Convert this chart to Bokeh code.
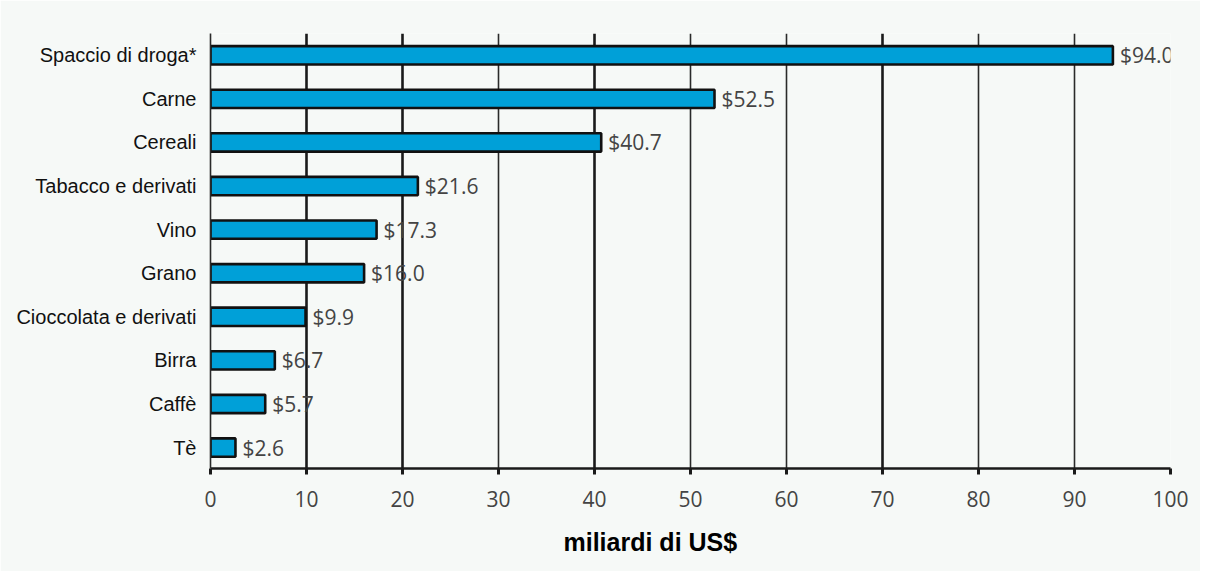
from bokeh.plotting import figure
from bokeh.models import Range1d, FixedTicker, Grid, ColumnDataSource, Title
from bokeh.core.properties import value
from bokeh.embed import file_html
from bokeh.resources import INLINE

categories = ["Spaccio di droga*", "Carne", "Cereali", "Tabacco e derivati", "Vino",
              "Grano", "Cioccolata e derivati", "Birra", "Caffè", "Tè"]
values = [94.0, 52.5, 40.7, 21.6, 17.3, 16.0, 9.9, 6.7, 5.7, 2.6]
value_labels = ["$94.0", "$52.5", "$40.7", "$21.6", "$17.3", "$16.0", "$9.9", "$6.7", "$5.7", "$2.6"]
x_ticks = [0, 10, 20, 30, 40, 50, 60, 70, 80, 90, 100]
axis_title = "miliardi di US$"

n = len(categories)
ypos = [n - 1 - i for i in range(n)]
src = ColumnDataSource(dict(y=ypos, v=values, cat=categories, lab=value_labels))

BG = "#f6f9f7"
p = figure(width=1200, height=571, output_backend="svg", toolbar_location=None,
           x_range=Range1d(0, 100), y_range=Range1d(-0.48, n - 0.5),
           min_border_left=210, min_border_right=30, min_border_top=33, min_border_bottom=60,
           background_fill_color=BG, border_fill_color=BG, outline_line_color=None)

p.xgrid.visible = False
p.ygrid.visible = False

thick = Grid(dimension=0, ticker=FixedTicker(ticks=[10, 20, 40, 70, 100]),
             grid_line_color="#1a1a1a", grid_line_width=2.6)
thin = Grid(dimension=0, ticker=FixedTicker(ticks=[30, 50, 60, 80, 90]),
            grid_line_color="#2a2a2a", grid_line_width=1.6)
p.add_layout(thick)
p.add_layout(thin)

p.hbar(y="y", right="v", left=0, height=0.42, source=src,
       fill_color="#00a0d8", line_color="#111111", line_width=2.6)

p.text(x="v", y="y", text="lab", source=src, x_offset=7,
       text_baseline="middle", text_align="left",
       text_font=value("Open Sans"), text_font_size="21px", text_color="#444444")

# x axis
p.xaxis.ticker = FixedTicker(ticks=x_ticks)
p.xaxis.axis_line_width = 2.6
p.xaxis.axis_line_color = "#1a1a1a"
p.xaxis.major_tick_line_width = 3
p.xaxis.major_tick_line_color = "#1a1a1a"
p.xaxis.major_tick_out = 6
p.xaxis.major_tick_in = 0
p.xaxis.minor_tick_line_color = None
p.xaxis.major_label_text_font = "Open Sans"
p.xaxis.major_label_text_font_size = "21px"
p.xaxis.major_label_text_color = "#444444"
p.xaxis.major_label_standoff = 16

# y axis
p.yaxis.ticker = FixedTicker(ticks=ypos)
p.yaxis.major_label_overrides = {y: c for y, c in zip(ypos, categories)}
p.yaxis.axis_line_width = 1.6
p.yaxis.axis_line_color = "#2a2a2a"
p.yaxis.major_tick_line_color = None
p.yaxis.minor_tick_line_color = None
p.yaxis.major_label_text_font = "Liberation Sans"
p.yaxis.major_label_text_font_size = "20px"
p.yaxis.major_label_text_color = "#111111"
p.yaxis.major_label_standoff = 8

title = Title(text=axis_title, align="left", offset=353, standoff=32,
              text_font="Liberation Sans", text_font_style="bold", text_font_size="25px",
              text_color="#000000")
p.add_layout(title, "below")

open("out.html", "w").write(file_html(p, INLINE))
